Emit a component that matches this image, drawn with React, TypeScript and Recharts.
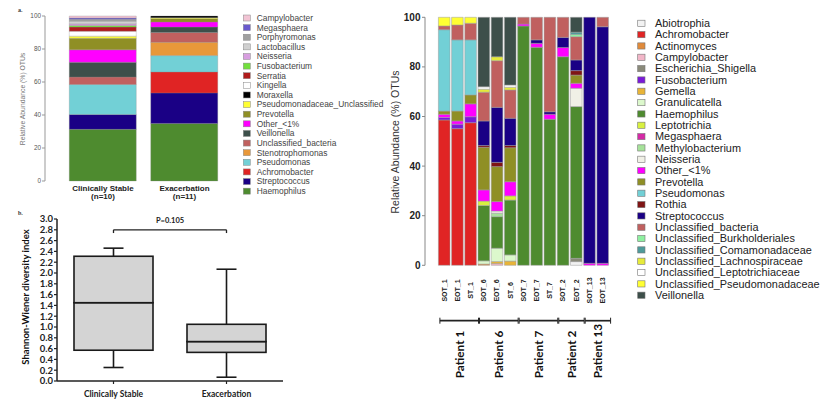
import React from 'react';
import { BarChart, Bar, XAxis, YAxis, ComposedChart, ReferenceLine, ReferenceArea } from 'recharts';

// ---------------- Panel a: mean relative abundance ----------------
const aCategories = ['Clinically Stable', 'Exacerbation'];
const aCounts = ['(n=10)', '(n=11)'];
// stack order, bottom -> top
const aGenera = [
  'Haemophilus', 'Streptococcus', 'Achromobacter', 'Pseudomonas', 'Stenotrophomonas',
  'Unclassified_bacteria', 'Veillonella', 'Other_<1%', 'Prevotella', 'Pseudomonadaceae_Unclassified',
  'Moraxella', 'Kingella', 'Serratia', 'Fusobacterium', 'Neisseria', 'Lactobacillus',
  'Porphyromonas', 'Megasphaera', 'Campylobacter',
];
const aColors = [
  '#4e8b2f', '#1a0085', '#e02424', '#72d0d6', '#e8983a',
  '#c0605f', '#3d4f4a', '#ff00ff', '#8f8f25', '#ffff33',
  '#000000', '#ffffff', '#b01c1c', '#72e03c', '#d89ee0', '#d0d0d0',
  '#a0a0a0', '#6a5acd', '#f2c4d4',
];
const aStable = [31.3, 9.0, 0, 18.2, 0, 4.5, 9.0, 7.5, 7.0, 1.3, 0, 3.0, 2.5, 1.0, 1.0, 1.5, 1.2, 0.8, 1.2];
const aExacerbation = [34.9, 18.5, 12.7, 9.9, 8.1, 5.9, 3.3, 3.1, 2.0, 0.6, 1.0, 0, 0, 0, 0, 0, 0, 0, 0];
const aTicks = [0, 20, 40, 60, 80, 100];

const aData = aCategories.map((c, i) => {
  const row: any = { name: c, count: aCounts[i] };
  const vals = i === 0 ? aStable : aExacerbation;
  aGenera.forEach((g, j) => { row['s' + j] = vals[j]; });
  return row;
});

// ---------------- Panel b: Shannon-Wiener box plot ----------------
const bCategories = ['Clinically Stable', 'Exacerbation'];
const bMin = [0.25, 0.07];
const bQ1 = [0.57, 0.53];
const bMedian = [1.45, 0.73];
const bQ3 = [2.31, 1.05];
const bMax = [2.46, 2.07];
const bTicks = [0, 0.2, 0.4, 0.6, 0.8, 1.0, 1.2, 1.4, 1.6, 1.8, 2.0, 2.2, 2.4, 2.6, 2.8, 3.0];
const bPText = 'P=0.105';
const bBracket = 2.8;
const bBracketEnd = 2.74;

const bData = bCategories.map((c, i) => ({
  name: c,
  base: bMin[i],
  lw: bQ1[i] - bMin[i],
  lb: bMedian[i] - bQ1[i],
  ub: bQ3[i] - bMedian[i],
  uw: bMax[i] - bQ3[i],
}));

// ---------------- Right panel: per-sample relative abundance ----------------
const rSamples = ['SOT_1', 'EOT_1', 'ST_1', 'SOT_6', 'EOT_6', 'ST_6', 'SOT_7', 'EOT_7', 'ST_7', 'SOT_2', 'EOT_2', 'SOT_13', 'EOT_13'];
const rGenera = [
  'Abiotrophia', 'Achromobacter', 'Actinomyces', 'Campylobacter', 'Escherichia_Shigella',
  'Fusobacterium', 'Gemella', 'Granulicatella', 'Haemophilus', 'Leptotrichia', 'Megasphaera',
  'Methylobacterium', 'Neisseria', 'Other_<1%', 'Prevotella', 'Pseudomonas', 'Rothia',
  'Streptococcus', 'Unclassified_bacteria', 'Unclassified_Burkholderiales',
  'Unclassified_Comamonadaceae', 'Unclassified_Lachnospiraceae', 'Unclassified_Leptotrichiaceae',
  'Unclassified_Pseudomonadaceae', 'Veillonella',
];
const rColors = [
  '#f2f2f2', '#e02424', '#e08a3a', '#f2b6c8', '#8a8a7a',
  '#7a1ad8', '#e8b437', '#dcf8cc', '#4e8b2f', '#d8f040', '#d42aa6',
  '#a6e29a', '#f0f0e6', '#ff00ff', '#8f8f25', '#72d0d6', '#7f1515',
  '#1a0085', '#c0605f', '#8ef0a0',
  '#4e9a9a', '#e6ea3a', '#ffffff',
  '#ffff33', '#3d4f4a',
];
// one row per genus, one value per sample
const rAbiotrophia = [0, 0, 0, 0, 0, 0, 0, 0, 0, 0, 1.5, 0, 0];
const rAchromobacter = [58.6, 55.1, 57.5, 0, 0, 0, 0, 0, 0, 0, 0, 0, 0];
const rActinomyces = [0, 0, 0, 0.5, 0, 0, 0, 0, 0, 0, 0, 0, 0];
const rCampylobacter = [0, 0, 0, 0, 0.7, 0, 0, 0, 0, 0, 0, 0, 0];
const rEscherichia = [0, 0, 0, 0, 0, 0, 0, 0, 0, 0, 1.3, 0, 0];
const rFusobacterium = [1.0, 1.8, 2.4, 0, 0, 0, 0, 0, 0, 0, 0, 0, 0];
const rGemella = [0, 0, 0, 0, 0.8, 1.7, 0, 0, 0, 0, 0, 0, 0];
const rGranulicatella = [0, 0, 0, 1.3, 5.4, 2.5, 0, 0, 0, 0, 0, 0, 0];
const rHaemophilus = [0, 0, 0, 22.3, 12.7, 22.1, 96.5, 87.9, 58.9, 84.1, 61.2, 0, 0];
const rLeptotrichia = [0, 0, 0, 1.8, 0, 1.7, 0, 0, 0, 0, 0, 0, 0];
const rMegasphaera = [0, 0, 0, 0, 0, 0, 0, 0, 0, 0, 0, 0, 0];
const rMethylobacterium = [0, 0, 0, 0, 1.4, 0, 0, 0, 0, 0, 0, 0, 0];
const rNeisseria = [0, 0, 0, 0, 0.9, 0, 0, 0, 0, 0, 7.4, 0, 0];
const rOther = [1.3, 1.3, 5.2, 4.5, 3.8, 5.7, 0.8, 1.6, 2.0, 3.7, 2.0, 0.8, 0.8];
const rPrevotella = [1.3, 4.0, 3.6, 17.2, 14.1, 13.7, 0, 0, 0, 0, 3.3, 0, 0];
const rPseudomonas = [32.8, 28.7, 22.2, 0, 0, 0, 0, 0, 0, 0, 0, 0, 0];
const rRothia = [0, 0, 0, 0.7, 1.7, 0.9, 0, 0, 0, 0, 1.8, 0, 0];
const rStreptococcus = [0, 0, 0, 9.9, 22.2, 11.0, 0, 1.4, 1.0, 4.1, 4.3, 99.2, 95.4];
const rUncBacteria = [1.5, 6.0, 6.7, 11.6, 18.8, 11.4, 2.7, 9.1, 38.1, 8.1, 9.4, 0, 3.8];
const rUncBurkholderiales = [0, 0, 0, 0, 0, 0, 0, 0, 0, 0, 0.9, 0, 0];
const rUncComamonadaceae = [0, 0, 0, 0, 0, 0, 0, 0, 0, 0, 0.9, 0, 0];
const rUncLachnospiraceae = [0, 0, 0, 1.2, 1.6, 1.1, 0, 0, 0, 0, 0, 0, 0];
const rUncLeptotrichiaceae = [0, 0, 0, 1.0, 0, 0.9, 0, 0, 0, 0, 0, 0, 0];
const rUncPseudomonadaceae = [3.5, 3.1, 2.4, 0, 0, 0, 0, 0, 0, 0, 0, 0, 0];
const rVeillonella = [0, 0, 0, 28.0, 15.9, 27.3, 0, 0, 0, 0, 6.0, 0, 0];
const rValues = [
  rAbiotrophia, rAchromobacter, rActinomyces, rCampylobacter, rEscherichia,
  rFusobacterium, rGemella, rGranulicatella, rHaemophilus, rLeptotrichia, rMegasphaera,
  rMethylobacterium, rNeisseria, rOther, rPrevotella, rPseudomonas, rRothia,
  rStreptococcus, rUncBacteria, rUncBurkholderiales,
  rUncComamonadaceae, rUncLachnospiraceae, rUncLeptotrichiaceae,
  rUncPseudomonadaceae, rVeillonella,
];
const rTicks = [0, 20, 40, 60, 80, 100];
const rPatients = ['Patient 1', 'Patient 6', 'Patient 7', 'Patient 2', 'Patient 13'];
const rPatientFirst = ['SOT_1', 'SOT_6', 'SOT_7', 'SOT_2', 'SOT_13'];
const rPatientLast = ['ST_1', 'ST_6', 'ST_7', 'EOT_2', 'EOT_13'];

const rData = rSamples.map((s, i) => {
  const row: any = { name: s };
  rGenera.forEach((g, j) => { row['g' + j] = rValues[j][i]; });
  return row;
});

// ---------------- shapes / ticks ----------------
const SANS = "'Liberation Sans', Arial, sans-serif";
const LATO = "Lato, 'Liberation Sans', sans-serif";

const ATick = (p: any) => {
  const { x, y, payload, index } = p;
  return (
    <g>
      <text x={x} y={y + 9.7} textAnchor="middle" fontSize={8} fontWeight={700} fill="#222" fontFamily={SANS}>{payload.value}</text>
      <text x={x} y={y + 17.7} textAnchor="middle" fontSize={8} fontWeight={700} fill="#222" fontFamily={SANS}>{aCounts[index]}</text>
    </g>
  );
};

const WHISKER = '#1a1a1a';
const LowWhisker = (p: any) => {
  const { x, y, width, height } = p;
  const cx = x + width / 2;
  return (
    <g>
      <line x1={cx} x2={cx} y1={y} y2={y + height} stroke={WHISKER} strokeWidth={1.6} />
      <line x1={cx - 10} x2={cx + 10} y1={y + height} y2={y + height} stroke={WHISKER} strokeWidth={1.6} />
    </g>
  );
};
const HighWhisker = (p: any) => {
  const { x, y, width, height } = p;
  const cx = x + width / 2;
  return (
    <g>
      <line x1={cx} x2={cx} y1={y} y2={y + height} stroke={WHISKER} strokeWidth={1.6} />
      <line x1={cx - 10} x2={cx + 10} y1={y} y2={y} stroke={WHISKER} strokeWidth={1.6} />
    </g>
  );
};
const BoxPart = (p: any) => {
  const { x, y, width, height } = p;
  return <rect x={x} y={y} width={width} height={height} fill="#d4d4d4" stroke={WHISKER} strokeWidth={1.6} />;
};

const SampleTick = (p: any) => {
  const { x, y, payload } = p;
  return (
    <text transform={`translate(${x + 2.5},${y + 25.2}) rotate(-90)`} textAnchor="middle" fontSize={7} fontWeight={700} fill="#222" fontFamily={SANS}>
      {payload.value}
    </text>
  );
};

const PatientBracket = (p: any) => {
  const { x, y, width, height, patient } = p;
  const by = y + height + 55.4;
  const x1 = x + 2.5;
  const x2 = x + width + 1.5;
  return (
    <g>
      <line x1={x1} x2={x2} y1={by} y2={by} stroke="#222" strokeWidth={1.7} />
      <line x1={x1} x2={x1} y1={by - 3} y2={by + 3} stroke="#222" strokeWidth={1} />
      <line x1={x2} x2={x2} y1={by - 3} y2={by + 3} stroke="#222" strokeWidth={1} />
      <text transform={`translate(${(x1 + x2) / 2 + 4.4},${by + 57.6}) rotate(-90)`} textAnchor="start" fontSize={11.8} fontWeight={700} fill="#111" fontFamily={LATO}>
        {patient}
      </text>
    </g>
  );
};

export default function App() {
  const aLegend = aGenera.map((g, i) => ({ g, c: aColors[i] })).reverse();
  return (
    <div style={{ position: 'absolute', left: 0, top: 0, width: 835, height: 420, background: '#fff', fontFamily: SANS, overflow: 'hidden' }}>
      {/* Panel a */}
      <div style={{ position: 'absolute', left: 0, top: 0 }}>
        <BarChart width={230} height={205} data={aData} margin={{ top: 16, right: 4.75, bottom: 0, left: 0 }}>
          <XAxis dataKey="name" height={24} axisLine={false} tickLine={false} tickSize={0} tickMargin={0} interval={0} padding={{ left: 17.25, right: 0 }} tick={<ATick />} />
          <YAxis domain={[0, 100]} ticks={aTicks} width={45} interval={0} axisLine={{ stroke: '#999' }} tickLine={{ stroke: '#999' }} tickSize={3} tickMargin={1} tick={{ fontSize: 6.4, fill: '#555', fontFamily: SANS }} />
          {aGenera.map((g, j) => (
            <Bar key={g} dataKey={'s' + j} name={g} stackId="a" fill={aColors[j]} stroke="#8a8a8a" strokeWidth={0.3} barSize={67} isAnimationActive={false} />
          ))}
        </BarChart>
      </div>

      {/* Panel b */}
      <div style={{ position: 'absolute', left: 0, top: 200 }}>
        <ComposedChart width={290} height={205} data={bData} margin={{ top: 19, right: 7, bottom: 0, left: 0 }}>
          <XAxis dataKey="name" height={24} interval={0} axisLine={{ stroke: '#222', strokeWidth: 1.5 }} tickLine={{ stroke: '#222', strokeWidth: 1.2 }} tickSize={3} tickMargin={6.5} tick={{ fontSize: 8.5, fontWeight: 700, fill: '#222', fontFamily: LATO }} />
          <YAxis domain={[0, 3]} ticks={bTicks} width={57} interval={0} tickFormatter={(v: number) => v.toFixed(1)} axisLine={{ stroke: '#222', strokeWidth: 1.5 }} tickLine={{ stroke: '#222', strokeWidth: 1.2 }} tickSize={3} tickMargin={1} tick={{ fontSize: 9.5, fontWeight: 700, fill: '#222', fontFamily: LATO }} />
          <Bar dataKey="base" stackId="box" fill="none" barSize={79} isAnimationActive={false} />
          <Bar dataKey="lw" stackId="box" barSize={79} shape={(p: any) => <LowWhisker {...p} />} isAnimationActive={false} />
          <Bar dataKey="lb" stackId="box" barSize={79} shape={(p: any) => <BoxPart {...p} />} isAnimationActive={false} />
          <Bar dataKey="ub" stackId="box" barSize={79} shape={(p: any) => <BoxPart {...p} />} isAnimationActive={false} />
          <Bar dataKey="uw" stackId="box" barSize={79} shape={(p: any) => <HighWhisker {...p} />} isAnimationActive={false} />
          <ReferenceLine
            segment={[{ x: bCategories[0], y: bBracket }, { x: bCategories[1], y: bBracket }]}
            stroke="#222" strokeWidth={1.3} ifOverflow="visible"
            label={{ value: bPText, position: 'top', offset: 7, fontSize: 7.5, fontWeight: 700, fill: '#222', fontFamily: LATO }}
          />
          <ReferenceLine segment={[{ x: bCategories[0], y: bBracket }, { x: bCategories[0], y: bBracketEnd }]} stroke="#222" strokeWidth={1.3} ifOverflow="visible" />
          <ReferenceLine segment={[{ x: bCategories[1], y: bBracket }, { x: bCategories[1], y: bBracketEnd }]} stroke="#222" strokeWidth={1.3} ifOverflow="visible" />
        </ComposedChart>
      </div>

      {/* Right panel */}
      <div style={{ position: 'absolute', left: 380, top: 0 }}>
        <BarChart width={240} height={420} data={rData} margin={{ top: 17.3, right: 10.9, bottom: 0, left: 0 }}>
          <XAxis dataKey="name" height={154.7} interval={0} axisLine={false} tickLine={false} tickSize={0} tickMargin={0} padding={{ left: 12.4, right: 0 }} tick={<SampleTick />} />
          <YAxis domain={[0, 100]} ticks={rTicks} width={45} interval={0} axisLine={{ stroke: '#888' }} tickLine={{ stroke: '#888' }} tickSize={3} tickMargin={1.5} tick={{ fontSize: 10, fontWeight: 700, fill: '#222', fontFamily: SANS }} />
          {rGenera.map((g, j) => (
            <Bar key={g} dataKey={'g' + j} name={g} stackId="r" fill={rColors[j]} stroke="#9a9a9a" strokeWidth={0.5} barSize={11.6} isAnimationActive={false} />
          ))}
          {rPatients.map((pt, i) => (
            <ReferenceArea key={pt} x1={rPatientFirst[i]} x2={rPatientLast[i]} y1={0} y2={100} ifOverflow="visible"
              shape={(p: any) => <PatientBracket {...p} patient={pt} />} />
          ))}
        </BarChart>
      </div>

      {/* Titles, legends, panel letters */}
      <svg width={835} height={420} style={{ position: 'absolute', left: 0, top: 0, pointerEvents: 'none' }}>
        <text x={18} y={12} fontSize={6} fontWeight={700} fontFamily="serif" fill="#333">a.</text>
        <text x={18} y={215} fontSize={6} fontWeight={700} fontFamily="serif" fill="#333">b.</text>
        <text transform="translate(25.3,99) rotate(-90)" textAnchor="middle" fontSize={6.8} fill="#777" fontFamily={SANS}>Relative Abundance (%) OTUs</text>
        <text transform="translate(28.5,297) rotate(-90)" textAnchor="middle" fontSize={9.5} fontWeight={700} fill="#111" fontFamily={LATO}>Shannon-Wiener diversity index</text>
        <text transform="translate(398.8,142) rotate(-90)" textAnchor="middle" fontSize={10.5} fill="#333" fontFamily={SANS}>Relative Abundance (%) OTUs</text>
        {aLegend.map((e, i) => {
          const cy = 18 + i * 9.62;
          return (
            <g key={e.g}>
              <rect x={243.3} y={cy - 3} width={7} height={6} fill={e.c} stroke="#888" strokeWidth={0.5} />
              <text x={256.7} y={cy + 2.9} fontSize={8.4} fill="#444" fontFamily={SANS}>{e.g}</text>
            </g>
          );
        })}
        {rGenera.map((g, i) => {
          const cy = 23.2 + i * 11.33;
          return (
            <g key={g}>
              <rect x={637.7} y={cy - 3} width={7.3} height={6.2} fill={rColors[i]} stroke="#777" strokeWidth={0.6} />
              <text x={655} y={cy + 3.8} fontSize={10.9} fill="#222" fontFamily={SANS}>{g}</text>
            </g>
          );
        })}
      </svg>
    </div>
  );
}
